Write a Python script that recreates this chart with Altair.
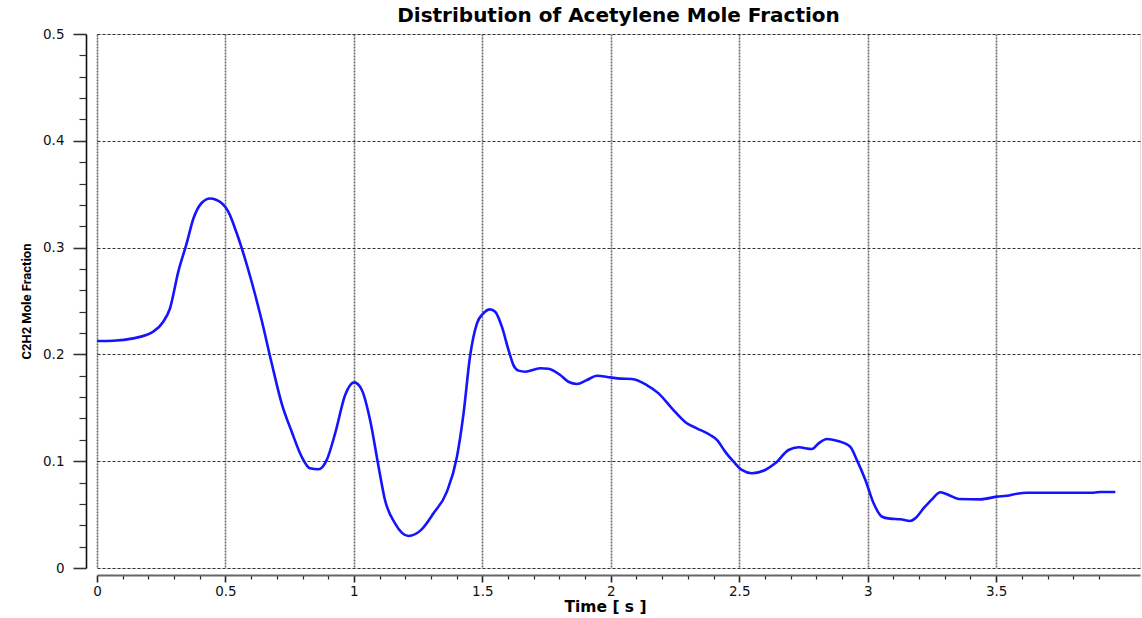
import altair as alt
import pandas as pd

# Data
time_s = [0.0, 0.064, 0.141, 0.219, 0.258, 0.284, 0.317, 0.349, 0.375, 0.408,
          0.440, 0.486, 0.511, 0.544, 0.602, 0.641, 0.680, 0.719, 0.758, 0.797,
          0.829, 0.862, 0.894, 0.927, 0.966, 1.001, 1.031, 1.063, 1.096, 1.121,
          1.160, 1.212, 1.264, 1.310, 1.362, 1.401, 1.427, 1.452, 1.479, 1.504,
          1.530, 1.550, 1.576, 1.602, 1.621, 1.641, 1.667, 1.725, 1.757, 1.803,
          1.835, 1.868, 1.907, 1.946, 1.998, 2.037, 2.082, 2.140, 2.186, 2.238,
          2.296, 2.335, 2.387, 2.413, 2.445, 2.478, 2.510, 2.549, 2.601, 2.640,
          2.692, 2.731, 2.783, 2.809, 2.841, 2.880, 2.932, 2.958, 2.991, 3.023,
          3.056, 3.088, 3.127, 3.166, 3.185, 3.218, 3.250, 3.283, 3.315, 3.354,
          3.439, 3.503, 3.542, 3.581, 3.620, 3.880, 3.906, 3.964]
c2h2_fraction = [0.2125, 0.2128, 0.215, 0.2213, 0.2306, 0.243, 0.278, 0.3040, 0.327, 0.342,
                 0.346, 0.3415, 0.3336, 0.3134, 0.268, 0.232, 0.1917, 0.154, 0.1276, 0.104,
                 0.0933, 0.0924, 0.101, 0.126, 0.162, 0.1738, 0.1667, 0.1386, 0.0949, 0.0637,
                 0.0418, 0.030, 0.0362, 0.0512, 0.0715, 0.104, 0.145, 0.198, 0.229, 0.2385,
                 0.2422, 0.240, 0.226, 0.204, 0.190, 0.1848, 0.1838, 0.187, 0.1866, 0.1807,
                 0.1744, 0.1723, 0.176, 0.180, 0.1785, 0.1773, 0.177, 0.1713, 0.1635, 0.1495,
                 0.1355, 0.1308, 0.1245, 0.1199, 0.109, 0.0995, 0.0918, 0.0887, 0.0918, 0.098,
                 0.1105, 0.113, 0.1114, 0.1167, 0.1208, 0.1192, 0.1136, 0.101, 0.0824, 0.0606,
                 0.048, 0.0462, 0.0456, 0.044, 0.0465, 0.056, 0.0643, 0.0709, 0.0684, 0.0646,
                 0.0643, 0.0668, 0.0677, 0.0696, 0.0705, 0.0705, 0.0712, 0.0712]

x_ticks = [round(i * 0.1, 1) for i in range(0, 40)]
y_ticks = [round(i * 0.02, 2) for i in range(0, 26)]

df = pd.DataFrame({"t": time_s, "c": c2h2_fraction})

x_major = "abs(datum.value*2 - round(datum.value*2)) < 0.001"
y_major = "abs(datum.value*10 - round(datum.value*10)) < 0.001"

label_font = "DejaVu Sans"

chart = alt.Chart(df).mark_line(
    color="#1414ff", strokeWidth=2.6, interpolate="monotone", clip=True
).encode(
    x=alt.X(
        "t:Q",
        scale=alt.Scale(domain=[0, 4.06], nice=False, zero=False),
        axis=alt.Axis(
            title="Time [ s ]",
            values=x_ticks,
            labelExpr=f"({x_major}) ? format(datum.value, '~g') : ''",
            offset=7,
            tickSize={"condition": {"test": x_major, "value": 7}, "value": 4},
            tickWidth={"condition": {"test": x_major, "value": 1.6}, "value": 1.2},
            gridOpacity={"condition": {"test": x_major, "value": 1}, "value": 0},
            grid=True,
            gridColor="#6a6a6a",
            gridDash=[2, 1],
            gridWidth=1.6,
            domainColor="#666666",
            domainWidth=2,
            tickColor="#222222",
            labelFont=label_font,
            labelFontSize=13.5,
            labelColor="#111111",
            labelPadding=2,
            labelFlush=False,
            titleFont=label_font,
            titleFontSize=15.5,
            titleFontWeight="bold",
            titleColor="#000000",
            titlePadding=2,
            titleX=508,
        ),
    ),
    y=alt.Y(
        "c:Q",
        scale=alt.Scale(domain=[0, 0.5], nice=False),
        axis=alt.Axis(
            title="C2H2 Mole Fraction",
            values=y_ticks,
            labelExpr=f"({y_major}) ? format(datum.value, '~g') : ''",
            offset=11,
            tickSize={"condition": {"test": y_major, "value": 13}, "value": 7},
            tickWidth={"condition": {"test": y_major, "value": 1.6}, "value": 1.2},
            gridOpacity={"condition": {"test": y_major, "value": 1}, "value": 0},
            grid=True,
            gridColor="#333333",
            gridDash=[3, 2],
            gridWidth=1,
            domainColor="#111111",
            domainWidth=1.6,
            tickColor="#333333",
            labelFont=label_font,
            labelFontSize=13.5,
            labelColor="#111111",
            labelPadding=9,
            labelFlush=False,
            titleFont="Roboto",
            titleFontSize=13,
            titleFontWeight="bold",
            titleColor="#000000",
            titlePadding=9,
        ),
    ),
).properties(
    width=1043,
    height=534,
    title=alt.TitleParams(
        "Distribution of Acetylene Mole Fraction",
        font=label_font,
        fontSize=20,
        fontWeight="bold",
        color="#000000",
        anchor="middle",
        offset=1,
    ),
    autosize=alt.AutoSizeParams(type="none"),
    padding={"left": 97, "top": 34, "right": 2, "bottom": 50},
).configure_view(
    stroke=None
).configure(
    background="white"
)

chart.save("out.html", embed_options={"renderer": "svg", "actions": False})
